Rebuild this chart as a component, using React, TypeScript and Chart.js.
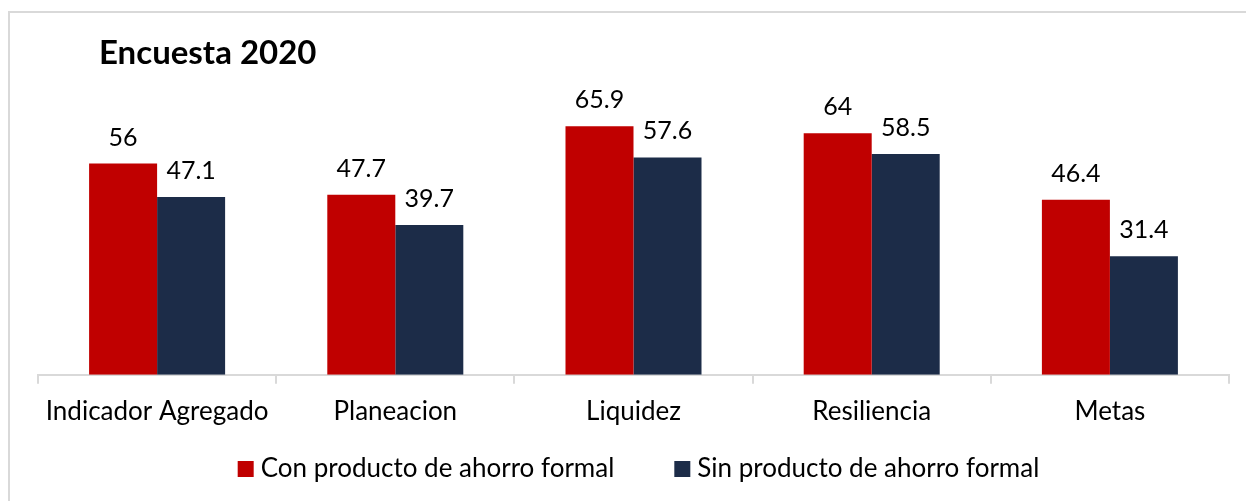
import React, { useEffect, useRef } from "react";
import { Chart, registerables } from "chart.js";

Chart.register(...registerables);

const categories = ["Indicador Agregado", "Planeacion", "Liquidez", "Resiliencia", "Metas"];
const conProducto = [56, 47.7, 65.9, 64, 46.4];
const sinProducto = [47.1, 39.7, 57.6, 58.5, 31.4];
const seriesNames = ["Con producto de ahorro formal", "Sin producto de ahorro formal"];
const seriesColors = ["#C00000", "#1C2C48"];
const titleText = "Encuesta 2020";
const yMin = 0;
const yMax = 70;

const FONT = "Lato, 'Open Sans', sans-serif";

const valueLabels = {
  id: "valueLabels",
  afterDatasetsDraw(chart: any) {
    const ctx = chart.ctx;
    ctx.save();
    ctx.font = `25px ${FONT}`;
    ctx.fillStyle = "#000";
    ctx.textAlign = "center";
    ctx.textBaseline = "alphabetic";
    chart.data.datasets.forEach((ds: any, di: number) => {
      const meta = chart.getDatasetMeta(di);
      meta.data.forEach((bar: any, i: number) => {
        ctx.fillText(String(ds.data[i]), bar.x, bar.y - 18);
      });
    });
    ctx.restore();
  },
};

const titlePlugin = {
  id: "titlePlugin",
  afterDraw(chart: any) {
    const ctx = chart.ctx;
    ctx.save();
    ctx.font = `bold 33px ${FONT}`;
    ctx.fillStyle = "#000";
    ctx.textAlign = "left";
    ctx.textBaseline = "alphabetic";
    ctx.fillText(titleText, 99, 64);
    ctx.restore();
  },
};

const legendPlugin = {
  id: "customLegend",
  afterDraw(chart: any) {
    const ctx = chart.ctx;
    ctx.save();
    ctx.font = `26px ${FONT}`;
    ctx.textBaseline = "middle";
    ctx.textAlign = "left";
    const box = 16;
    const boxGap = 7;
    const itemGap = 60;
    const widths = seriesNames.map((n) => box + boxGap + ctx.measureText(n).width);
    const total = widths.reduce((a, b) => a + b, 0) + itemGap * (widths.length - 1);
    let x = 638.5 - total / 2;
    const cy = 469;
    seriesNames.forEach((n, i) => {
      ctx.fillStyle = seriesColors[i];
      ctx.fillRect(x, cy - 8, box, box);
      ctx.fillStyle = "#000";
      ctx.fillText(n, x + box + boxGap, cy);
      x += widths[i] + itemGap;
    });
    ctx.restore();
  },
};

export default function App() {
  const ref = useRef<HTMLCanvasElement | null>(null);

  useEffect(() => {
    if (!ref.current) return;
    const chart = new Chart(ref.current, {
      type: "bar",
      data: {
        labels: categories,
        datasets: [
          {
            label: seriesNames[0],
            data: conProducto,
            backgroundColor: seriesColors[0],
            barPercentage: 1,
            categoryPercentage: 0.571,
          },
          {
            label: seriesNames[1],
            data: sinProducto,
            backgroundColor: seriesColors[1],
            barPercentage: 1,
            categoryPercentage: 0.571,
          },
        ],
      },
      options: {
        responsive: false,
        animation: false,
        devicePixelRatio: 1,
        layout: { padding: { left: 38, right: 17, top: 110.7, bottom: 62 } },
        plugins: {
          legend: { display: false },
          title: { display: false },
          tooltip: { enabled: false },
        },
        scales: {
          x: {
            grid: {
              display: true,
              drawOnChartArea: false,
              drawTicks: true,
              tickLength: 9,
              color: "#d9d9d9",
              lineWidth: 2,
              offset: true,
            },
            border: { display: true, color: "#d9d9d9", width: 2 },
            ticks: {
              font: { family: FONT, size: 26 },
              color: "#000",
              padding: 12,
              maxRotation: 0,
              autoSkip: false,
            },
          },
          y: { display: false, min: yMin, max: yMax },
        },
      },
      plugins: [valueLabels, titlePlugin, legendPlugin],
    });
    return () => chart.destroy();
  }, []);

  return (
    <div style={{ position: "fixed", left: 0, top: 0, width: 1246, height: 501, background: "#fff" }}>
      <div
        style={{
          position: "absolute",
          left: 8,
          top: 11,
          width: 1246,
          height: 501,
          borderTop: "2px solid #d9d9d9",
          borderLeft: "2px solid #d9d9d9",
          boxSizing: "border-box",
        }}
      />
      <canvas
        ref={ref}
        width={1246}
        height={501}
        style={{ position: "absolute", left: 0, top: 0, width: 1246, height: 501 }}
      />
    </div>
  );
}
